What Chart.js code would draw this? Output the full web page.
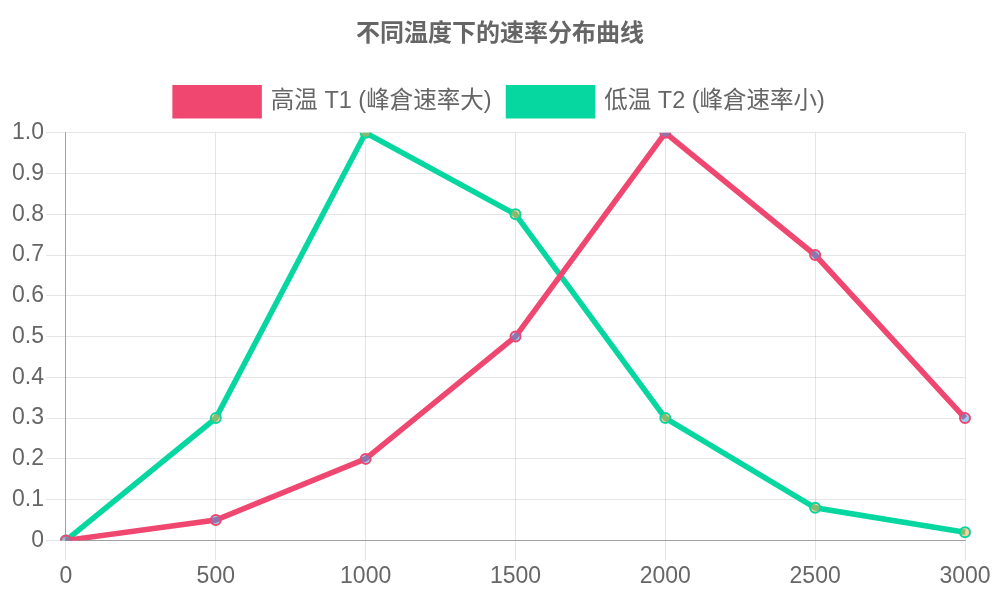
<!DOCTYPE html>
<html><head><meta charset="utf-8">
<script src="https://cdn.jsdelivr.net/npm/chart.js@4/dist/chart.umd.min.js"></script>
<style>html,body{margin:0;padding:0;background:#fff}#wrap{width:1000px;height:600px}</style>
</head><body><div id="wrap"><canvas id="c" width="1000" height="600"></canvas></div>
<script>
const categories = ['0','500','1000','1500','2000','2500','3000'];
const highT = [0, 0.05, 0.2, 0.5, 1.0, 0.7, 0.3];
const lowT = [0, 0.3, 1.0, 0.8, 0.3, 0.08, 0.02];
const seriesNames = ['高温 T1 (峰倉速率大)', '低温 T2 (峰倉速率小)'];
const titleText = '不同温度下的速率分布曲线';

const FONT = "'Liberation Sans', Arial, 'Noto Sans CJK SC', sans-serif";
Chart.defaults.font.family = FONT;
Chart.defaults.color = '#666';

const legendSpacer = {
  id: 'legendSpacer',
  beforeInit(chart) {
    const origFit = chart.legend.fit;
    chart.legend.fit = function () { origFit.call(this); this.height += 7; };
  },
  afterLayout(chart) {
    const d = 12.5;
    if (chart.titleBlock) { chart.titleBlock.left += d; chart.titleBlock.right += d; }
    if (chart.legend) { chart.legend.left += d; chart.legend.right += d; }
  }
};

new Chart(document.getElementById('c'), {
  type: 'line',
  data: {
    labels: categories,
    datasets: [
      {label: seriesNames[0], data: highT, borderColor: '#ef476f', backgroundColor: '#ef476f',
       borderWidth: 5.5, tension: 0, fill: false, pointRadius: 5, pointBorderWidth: 2,
       pointBorderColor: '#ef476f', pointBackgroundColor: 'rgba(54,162,235,0.5)'},
      {label: seriesNames[1], data: lowT, borderColor: '#06d6a0', backgroundColor: '#06d6a0',
       borderWidth: 5.5, tension: 0, fill: false, pointRadius: 5, pointBorderWidth: 2,
       pointBorderColor: '#06d6a0', pointBackgroundColor: 'rgba(255,159,64,0.5)'}
    ]
  },
  options: {
    responsive: false,
    animation: false,
    layout: {padding: {left: 10, right: 35, top: 0, bottom: 8}},
    plugins: {
      title: {display: true, text: titleText, font: {size: 24, weight: 'bold', family: FONT}, color: '#666',
              padding: {top: 20, bottom: 22}},
      legend: {labels: {font: {size: 23.5}, boxWidth: 84, boxHeight: 28, color: '#666', padding: 17}},
      tooltip: {enabled: false}
    },
    scales: {
      x: {type: 'category', offset: false,
          grid: {color: 'rgba(0,0,0,0.1)', tickLength: 20},
          border: {color: 'rgba(0,0,0,0.3)'},
          ticks: {font: {size: 23}, color: '#666', maxRotation: 0, padding: 2}},
      y: {min: 0, max: 1, ticks: {stepSize: 0.1, font: {size: 23}, color: '#666', padding: 2},
          grid: {color: 'rgba(0,0,0,0.1)', tickLength: 20},
          border: {color: 'rgba(0,0,0,0.3)'}}
    }
  },
  plugins: [legendSpacer]
});
</script></body></html>
